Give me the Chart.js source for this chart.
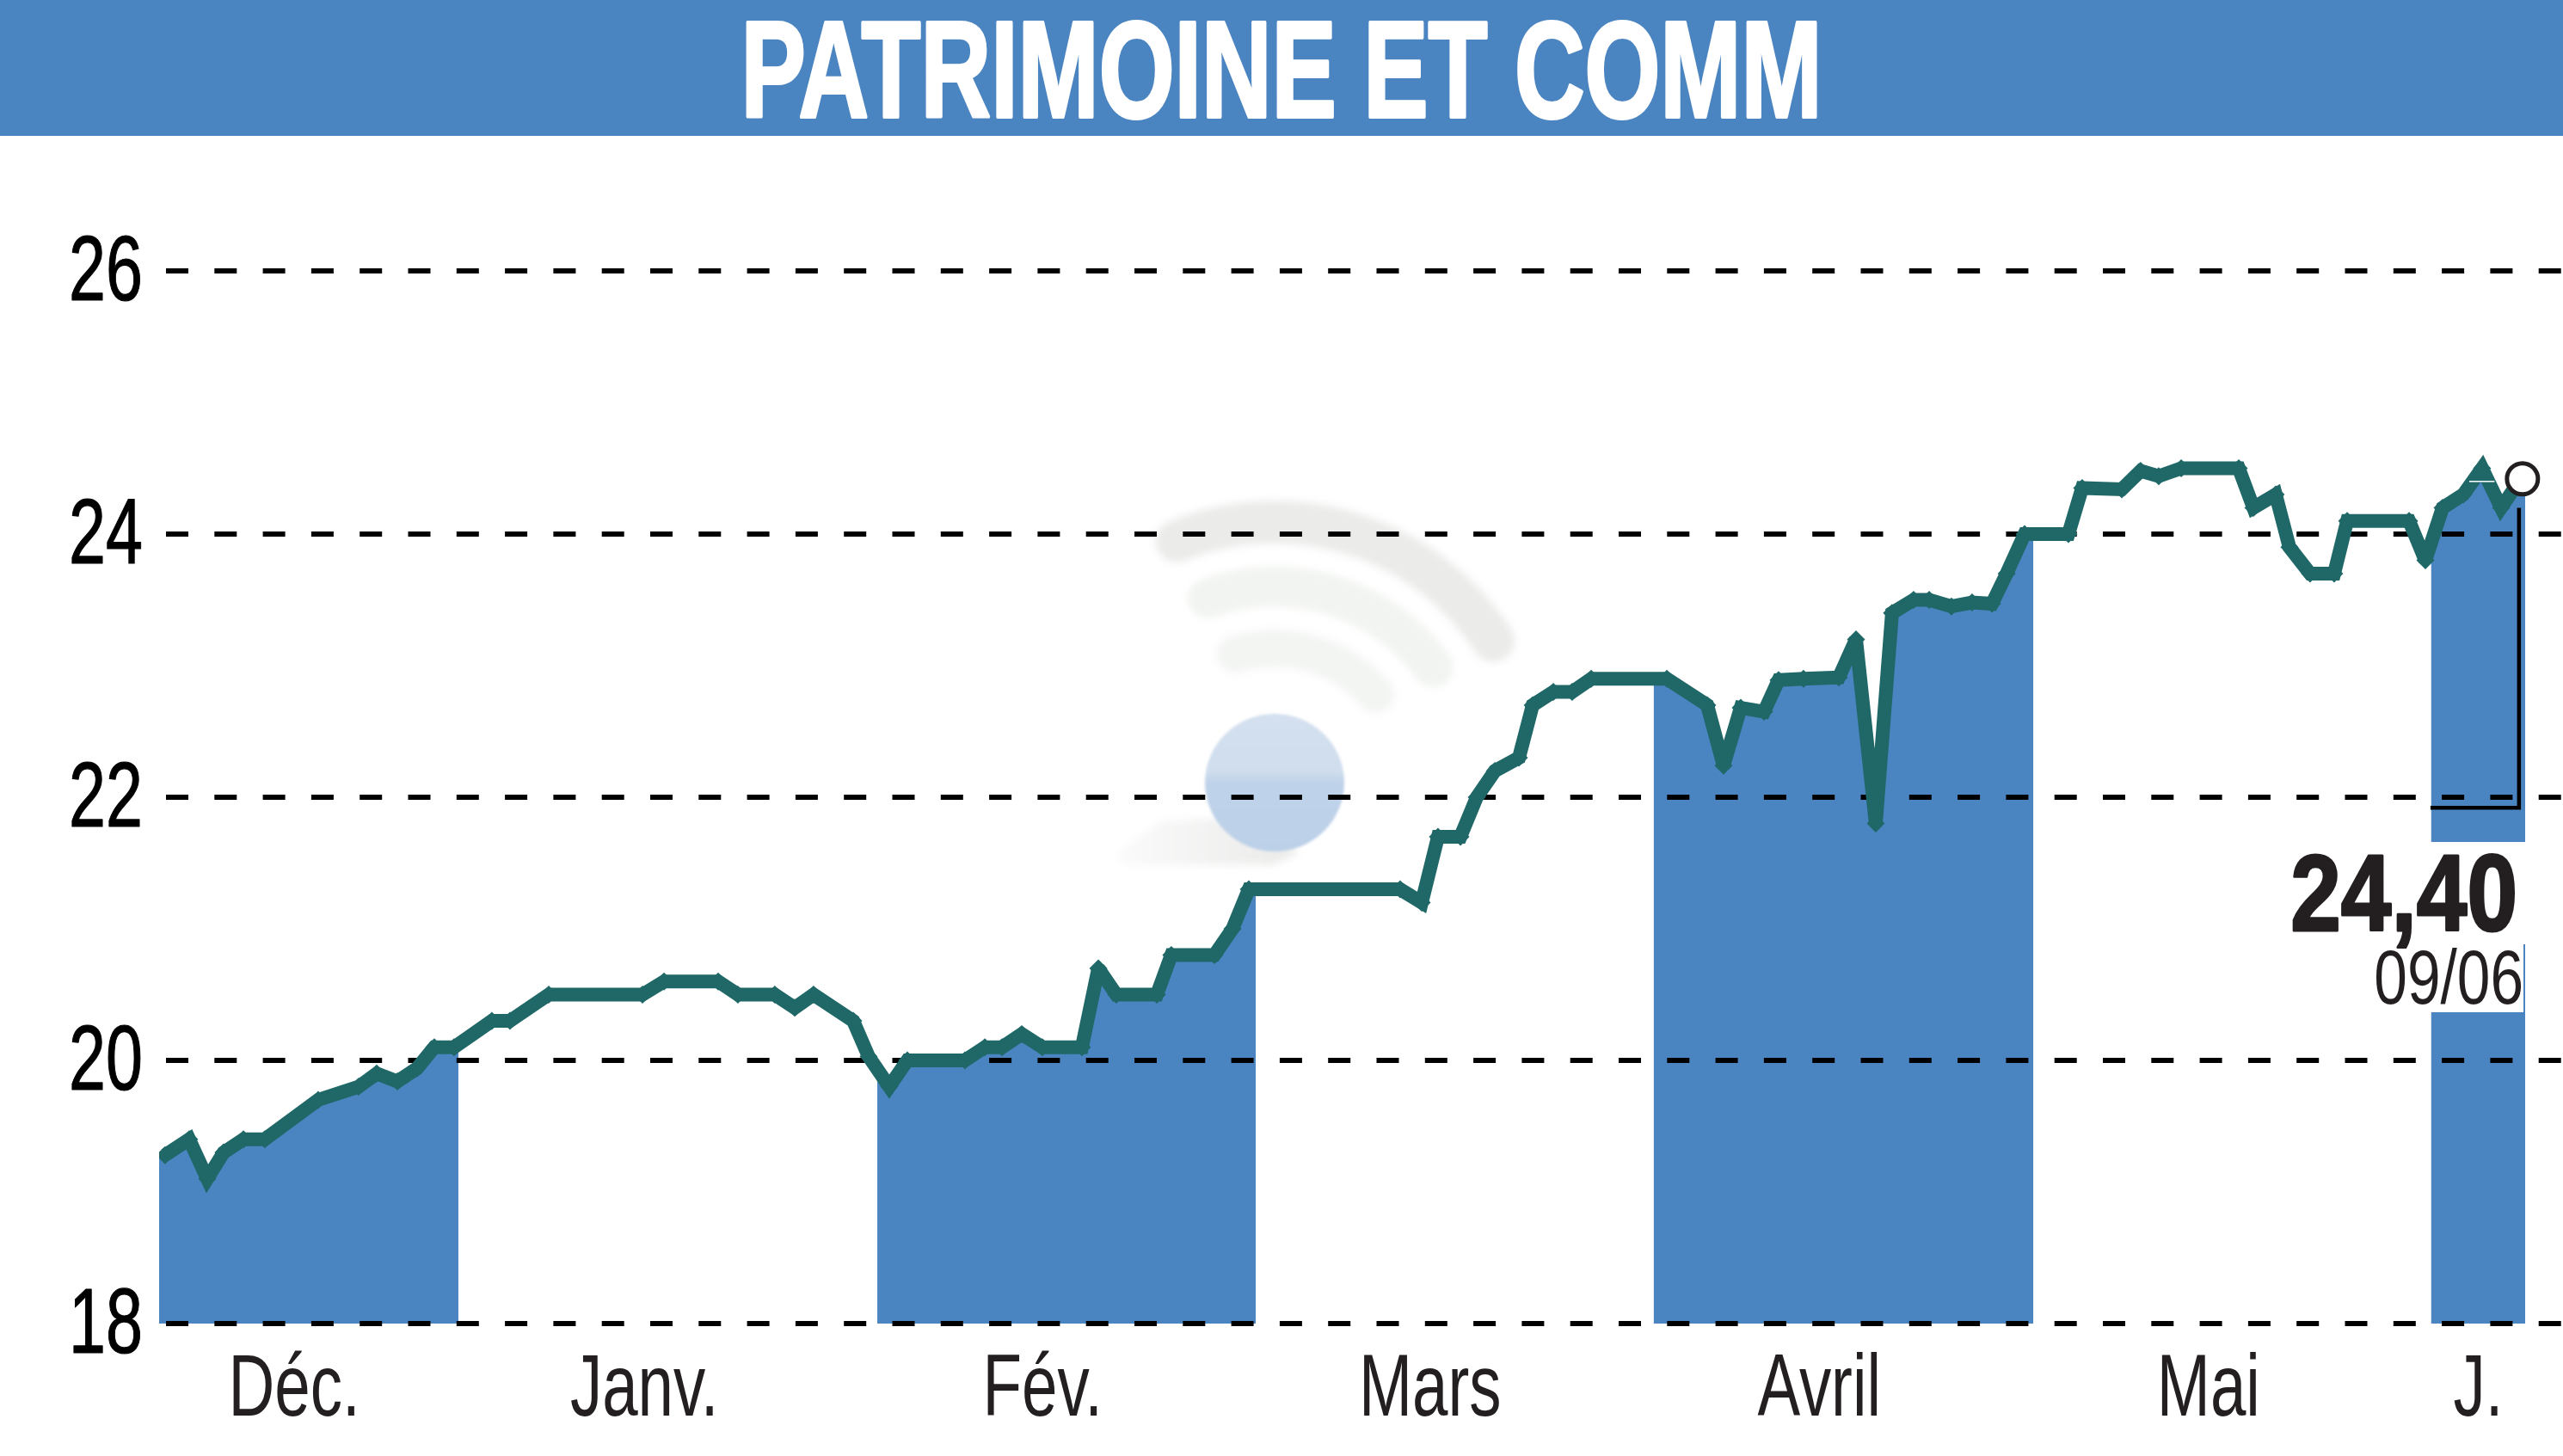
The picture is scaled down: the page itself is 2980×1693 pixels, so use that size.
<!DOCTYPE html>
<html lang="fr"><head><meta charset="utf-8"><title>PATRIMOINE ET COMM</title>
<script src="https://cdn.jsdelivr.net/npm/chart.js@4/dist/chart.umd.js"></script>
<style>html,body{margin:0;padding:0;background:#fff}canvas{display:block}</style></head>
<body><canvas id="c" width="2980" height="1693"></canvas>
<script>
const titleText = 'PATRIMOINE ET COMM';
const lastValueLabel = '24,40';
const lastDateLabel = '09/06';
const yTicks = [18, 20, 22, 24, 26];
const monthLabels = ['Déc.', 'Janv.', 'Fév.', 'Mars', 'Avril', 'Mai', 'J.'];
const monthCentres = [7.46, 26.8, 48.8, 70.2, 91.7, 113.2, 128.1];
const shadedMonths = [[0, 16.53], [39.67, 60.57], [82.56, 103.52], [125.5, 130.69]];
const sessions = [0.33,1.66,2.66,3.56,4.66,5.84,8.79,11.02,12.02,13.16,14.25,15.2,16.29,18.38,19.38,21.52,26.7,27.89,30.88,31.97,34.01,35.11,36.15,38.34,39.19,40.33,41.33,44.51,45.61,46.56,47.65,48.79,50.97,51.88,52.87,55.11,55.91,58.29,59.29,60.19,68.55,69.74,70.64,71.88,72.78,73.78,75.11,75.87,77.01,78.05,79.1,83.28,85.51,86.41,87.36,88.65,89.45,90.83,92.78,93.73,94.82,95.72,96.91,97.77,99.0,100.14,101.24,102.05,103.04,105.46,106.22,108.41,109.45,110.45,111.69,114.87,115.68,116.91,117.67,118.81,120.14,120.86,124.28,125.18,126.13,127.27,128.31,129.36,130.45];
const closes = [19.28,19.4,19.1,19.3,19.4,19.4,19.7,19.8,19.9,19.84,19.94,20.1,20.1,20.3,20.3,20.5,20.5,20.6,20.6,20.5,20.5,20.4,20.5,20.3,20.03,19.8,20.0,20.0,20.1,20.1,20.2,20.1,20.1,20.7,20.5,20.5,20.8,20.8,21.0,21.3,21.3,21.2,21.7,21.7,22.0,22.2,22.3,22.7,22.8,22.8,22.9,22.9,22.7,22.24,22.68,22.65,22.89,22.9,22.91,23.2,21.8,23.4,23.5,23.5,23.45,23.48,23.47,23.7,24.0,24.0,24.35,24.34,24.48,24.44,24.5,24.5,24.2,24.3,23.9,23.7,23.7,24.1,24.1,23.8,24.2,24.3,24.5,24.2,24.42];
const lastMarkerX = [130.54];
const lastMarkerY = [24.42];
const leaderX = [125.46, 130.35, 130.35];
const leaderY = [21.92, 21.92, 24.2];
const flagX = [127.6, 129.0];
const flagY = [24.4, 24.4];

const BLUE = '#4a84c1', TEAL = '#206868', INK = '#231f20';
const canvas = document.getElementById('c');
const ctx = canvas.getContext('2d');

// The original uses a condensed face: squeeze each text around its anchor, by font size.
const squeeze = {160: 0.706, 107: 0.722, 102: 0.73, 127: 0.83, 89: 0.78};
const embolden = {160: 4, 127: 3, 107: 1.2};
const rawFill = ctx.fillText;
ctx.fillText = function (t, x, y) {
  const m = /(\d+(?:\.\d+)?)px/.exec(this.font);
  const s = (m && squeeze[+m[1]]) || 1;
  const w = m && embolden[+m[1]];
  this.save(); this.translate(x, y); this.scale(s, 1);
  if (w) { this.strokeStyle = this.fillStyle; this.lineWidth = w; this.lineJoin = 'round'; this.strokeText(t, 0, 0); }
  rawFill.call(this, t, 0, 0);
  this.restore();
};

function drawWatermark(c) {
  const cx = 1482, cy = 910;
  const rings = [[303, -112, -33, 50, '#ebecea'], [228, -110, -36, 46, '#f1f4f0'], [156, -107, -41, 44, '#f3f5f3']];
  c.save();
  c.filter = 'blur(5px)';
  c.lineCap = 'round';
  rings.forEach(([r, a, b, w, col]) => {
    c.strokeStyle = col; c.lineWidth = w; c.beginPath();
    c.arc(cx, cy, r, a * Math.PI / 180, b * Math.PI / 180); c.stroke();
  });
  const sh = c.createLinearGradient(1295, 0, 1500, 0);
  sh.addColorStop(0, '#fbfbfb'); sh.addColorStop(1, '#ebebea');
  c.fillStyle = sh; c.beginPath();
  c.moveTo(1295, 995); c.lineTo(1350, 955); c.lineTo(1450, 950); c.lineTo(1510, 992); c.lineTo(1480, 1006); c.lineTo(1310, 1006);
  c.closePath(); c.fill();
  c.filter = 'blur(1.5px)';
  const g = c.createLinearGradient(0, cy - 80, 0, cy + 80);
  g.addColorStop(0, '#d4e0ef'); g.addColorStop(0.42, '#cfdded'); g.addColorStop(0.5, '#bed2e9'); g.addColorStop(1, '#bcd0e8');
  c.fillStyle = g; c.beginPath(); c.ellipse(cx, cy, 81, 80, 0, 0, Math.PI * 2); c.fill();
  c.restore();
}

// Runs before the library's fill plugin: paints the backdrop and restricts the area fill to the shaded months.
const backdropAndMask = {
  id: 'backdropAndMask',
  beforeDraw(chart) {
    const c = chart.ctx;
    c.miterLimit = 2.5;
    c.fillStyle = BLUE; c.fillRect(0, 0, chart.width, 158);
    drawWatermark(c);
    const x = chart.scales.x, a = chart.chartArea;
    c.save(); c.beginPath();
    shadedMonths.forEach(([s, e]) => {
      const l = x.getPixelForValue(s);
      c.rect(l, a.top - 10, x.getPixelForValue(e) - l, a.bottom - a.top + 20);
    });
    c.clip();
  }
};
Chart.unregister(Chart.Filler);
Chart.register(backdropAndMask, Chart.Filler);

const endMask = { id: 'endMask', beforeDraw(chart) { chart.ctx.restore(); } };

const lastLabel = {
  id: 'lastLabel',
  afterDraw(chart) {
    const c = chart.ctx;
    c.save();
    c.fillStyle = '#fff';
    c.fillRect(2815, 979, 130, 119);
    c.fillRect(2815, 1098, 119, 79);
    c.fillStyle = INK; c.textAlign = 'right'; c.textBaseline = 'alphabetic';
    c.font = 'bold 127px "Liberation Sans"';
    c.fillText(lastValueLabel, 2927, 1082);
    c.font = '89px "Liberation Sans"';
    c.fillText(lastDateLabel, 2934, 1167);
    c.restore();
  }
};

const pts = (xs, ys) => xs.map((x, i) => ({x, y: ys[i]}));
const areaX = [shadedMonths[0][0], ...sessions, shadedMonths[3][1]];
const areaY = [closes[0], ...closes, closes[closes.length - 1]];

new Chart(ctx, {
  type: 'line',
  data: {
    datasets: [
      {label: 'Dernier cours', order: 0, data: pts(lastMarkerX, lastMarkerY), showLine: false,
       pointRadius: 18, pointBackgroundColor: '#fff', pointBorderColor: INK, pointBorderWidth: 5},
      {label: 'Repère', order: 1, data: pts(leaderX, leaderY), borderColor: '#000', borderWidth: 4.5, pointRadius: 0, borderJoinStyle: 'miter'},
      {label: 'Filet', order: 1.5, data: pts(flagX, flagY), borderColor: '#fff', borderWidth: 1.5, pointRadius: 0},
      {label: 'Cours', order: 2, data: pts(sessions, closes), borderColor: TEAL, borderWidth: 16, tension: 0,
       borderJoinStyle: 'miter', pointStyle: 'rectRot', pointRadius: 10.5, pointBackgroundColor: TEAL, pointBorderWidth: 0},
      {label: 'Zone', order: 3, data: pts(areaX, areaY), borderWidth: 0, borderColor: 'transparent', pointRadius: 0, tension: 0,
       backgroundColor: BLUE, fill: 'start'}
    ]
  },
  plugins: [endMask, lastLabel],
  options: {
    responsive: false, animation: false, devicePixelRatio: 1,
    layout: {padding: 0, autoPadding: false},
    plugins: {
      legend: {display: false}, tooltip: {enabled: false},
      filler: {drawTime: 'beforeDraw', propagate: false},
      title: {display: true, text: titleText, color: '#fff',
        font: {family: '"Liberation Sans"', weight: 'bold', size: 160, lineHeight: 1},
        padding: {top: 12, bottom: 143}}
    },
    scales: {
      x: {
        type: 'linear', min: 0, max: 132.78,
        afterBuildTicks(s) { s.ticks = monthCentres.map(value => ({value})); },
        afterFit(s) { s.height = 154; },
        grid: {display: false}, border: {display: false},
        ticks: {autoSkip: false, maxRotation: 0, minRotation: 0, padding: 20, color: INK,
          font: {family: '"Liberation Sans"', size: 102, lineHeight: 1},
          callback: (v, i) => monthLabels[i]}
      },
      y: {
        min: 18, max: 26,
        afterBuildTicks(s) { s.ticks = yTicks.map(value => ({value})); },
        afterFit(s) { s.width = 185; },
        grid: {color: '#000', lineWidth: 6, drawTicks: false},
        border: {display: false, dash: [26, 30.3], dashOffset: 48.3},
        ticks: {padding: 19, labelOffset: 4, color: '#000', autoSkip: false,
          font: {family: '"Liberation Sans"', size: 107, lineHeight: 1}}
      }
    }
  }
});
</script></body></html>
